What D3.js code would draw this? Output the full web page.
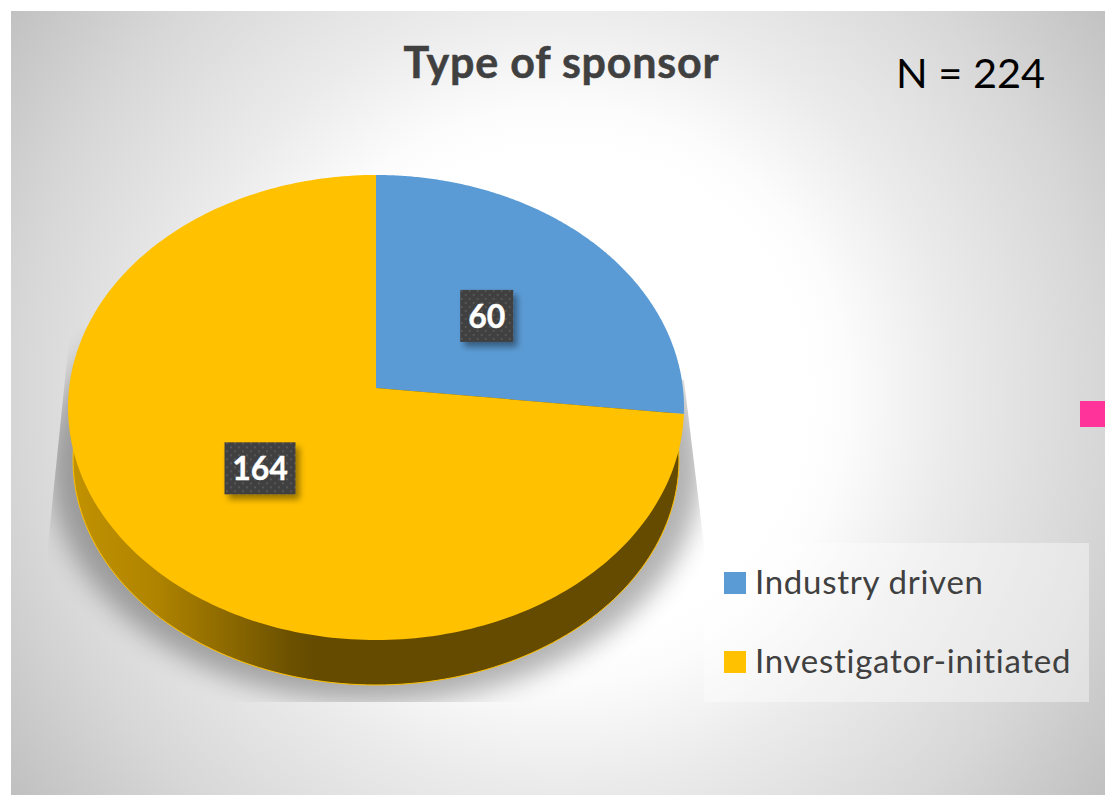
<!DOCTYPE html>
<html><head><meta charset="utf-8">
<script src="https://cdn.jsdelivr.net/npm/d3@7"></script>
<style>html,body{margin:0;padding:0;background:#fff}svg{display:block}text{font-family:Lato,sans-serif}</style>
</head><body><div id="c"></div>
<script>
const categories = ["Industry driven", "Investigator-initiated"];
const values = [60, 164];
const colors = ["#5b9bd5", "#ffc100"];
const chartTitle = "Type of sponsor";
const sampleNote = "N = 224";

const W = 1105, H = 795;
const svg = d3.select("#c").append("svg").attr("width", W).attr("height", H);
const defs = svg.append("defs");

// background
const bg = defs.append("radialGradient").attr("id", "bg").attr("gradientUnits", "userSpaceOnUse")
  .attr("cx", 0).attr("cy", 0).attr("r", 1)
  .attr("gradientTransform", "translate(560,395) scale(685,685)");
[[0, "#ffffff"], [0.36, "#ffffff"], [0.42, "#fcfcfc"], [0.49, "#f4f4f4"], [0.57, "#ebebeb"], [0.79, "#d7d7d7"], [1, "#bfbfbf"]]
  .forEach(([o, c]) => bg.append("stop").attr("offset", o).attr("stop-color", c));
svg.append("rect").attr("x", 11).attr("y", 11).attr("width", W - 11).attr("height", H - 11).attr("fill", "url(#bg)");

// shadow
defs.append("filter").attr("id", "blur").attr("x", "-20%").attr("y", "-20%").attr("width", "140%").attr("height", "140%")
  .append("feGaussianBlur").attr("stdDeviation", 13);
defs.append("clipPath").attr("id", "shadowClip").append("polygon")
  .attr("points", "70,330 48,545 48,702 704,702 704,545 684,380 376,300");
svg.append("g").attr("clip-path", "url(#shadowClip)")
  .append("ellipse").attr("cx", 376).attr("cy", 466).attr("rx", 326).attr("ry", 236)
  .attr("fill", "#000").attr("opacity", 0.3).attr("filter", "url(#blur)");

// perspective pie projection
const K = 0.0839;
const top_ = { cx: 376, cy: 388, bx: 306.9, by: 230.9 };
const bot_ = { cx: 376, cy: 441, bx: 301.9, by: 223.5 };
function proj(a, r, f) {
  const sinA = Math.sin(a) * r, s = -Math.cos(a) * r, d = 1 - K * s;
  return [f.cx + f.bx * sinA / d, f.cy + f.by * s / d];
}
const line = d3.line();
const arcs = d3.pie().sort(null).value(d => d)(values);
const pts = (a0, a1, f) => d3.range(0, 241).map(i => proj(a0 + (a1 - a0) * i / 240, 1, f));

// side wall
const side = defs.append("linearGradient").attr("id", "side").attr("gradientUnits", "userSpaceOnUse")
  .attr("x1", 68).attr("x2", 684).attr("y1", 0).attr("y2", 0);
[[0, "#c29200"], [0.14, "#b08400"], [0.26, "#8c6900"], [0.36, "#6c5100"], [0.40, "#654b00"], [1, "#654b00"]]
  .forEach(([o, c]) => side.append("stop").attr("offset", o).attr("stop-color", c));
svg.append("path").attr("d", line(pts(0, 2 * Math.PI, bot_)) + "Z")
  .attr("fill", "url(#side)").attr("stroke", "#ffc100").attr("stroke-width", 1);

// top faces
svg.selectAll("path.slice").data(arcs).join("path").attr("class", "slice")
  .attr("d", d => line([proj(0, 0, top_), ...pts(d.startAngle, d.endAngle, top_)]) + "Z")
  .attr("fill", (d, i) => colors[i]);

// data labels
const pat = defs.append("pattern").attr("id", "dots").attr("patternUnits", "userSpaceOnUse")
  .attr("width", 8).attr("height", 8);
pat.append("rect").attr("width", 8).attr("height", 8).attr("fill", "#3f3f3f");
pat.append("rect").attr("x", 2).attr("y", 2).attr("width", 2).attr("height", 2).attr("fill", "#565656");
pat.append("rect").attr("x", 6).attr("y", 6).attr("width", 2).attr("height", 2).attr("fill", "#565656");
const ds = defs.append("filter").attr("id", "ds").attr("x", "-30%").attr("y", "-30%").attr("width", "160%").attr("height", "160%");
ds.append("feDropShadow").attr("dx", 4).attr("dy", 5).attr("stdDeviation", 3).attr("flood-color", "#000").attr("flood-opacity", 0.4);
const lab = svg.selectAll("g.lab").data(arcs).join("g").attr("class", "lab")
  .attr("transform", d => {
    const p = proj((d.startAngle + d.endAngle) / 2, 0.495, top_);
    return `translate(${p[0] + 0.5},${p[1] + 2})`;
  });
lab.append("rect").attr("x", d => d.value > 99 ? -35.5 : -26.5).attr("y", -26)
  .attr("width", d => d.value > 99 ? 71 : 53).attr("height", 52)
  .attr("fill", "url(#dots)").attr("filter", "url(#ds)");
lab.append("text").attr("text-anchor", "middle").attr("y", 12).attr("fill", "#fff")
  .attr("font-size", 32).attr("font-weight", 700).attr("stroke", "#fff").attr("stroke-width", 0.4).text(d => d.value);

// title + note
svg.append("text").attr("x", 561.5).attr("y", 78).attr("text-anchor", "middle").attr("fill", "#404040")
  .attr("font-size", 43).attr("font-weight", 700).attr("letter-spacing", 0.8)
  .attr("stroke", "#404040").attr("stroke-width", 0.5).text(chartTitle);
svg.append("text").attr("x", 970.5).attr("y", 88).attr("text-anchor", "middle").attr("fill", "#000")
  .attr("font-size", 41.5).text(sampleNote);

// stray marker
svg.append("rect").attr("x", 1080).attr("y", 401).attr("width", 25).attr("height", 26).attr("fill", "#ff3399");

// legend
svg.append("rect").attr("x", 704).attr("y", 543).attr("width", 385).attr("height", 159).attr("fill", "#fff").attr("opacity", 0.4);
const y = d3.scalePoint().domain(categories).range([583, 662]);
const lg = svg.selectAll("g.lg").data(categories).join("g").attr("class", "lg")
  .attr("transform", d => `translate(724,${y(d)})`);
lg.append("rect").attr("x", 0).attr("y", -11).attr("width", 22).attr("height", 22).attr("fill", (d, i) => colors[i]);
lg.append("text").attr("x", 31).attr("y", 11).attr("fill", "#404040").attr("font-size", 33).attr("letter-spacing", 0.72).text(d => d);
</script></body></html>
